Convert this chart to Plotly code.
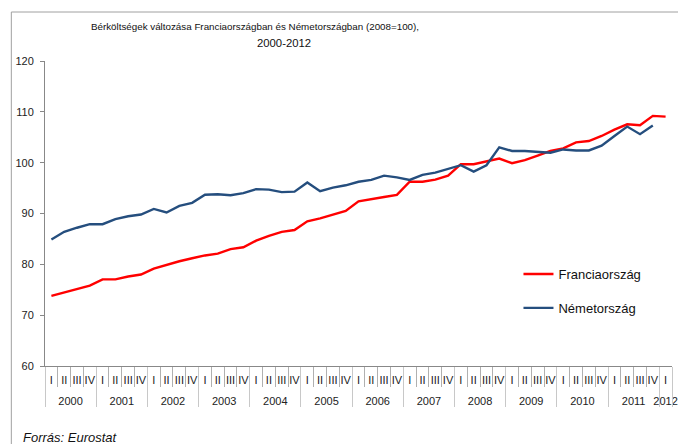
import plotly.graph_objects as go

years = [str(y) for y in range(2000, 2013)]
quarter_names = ["I", "II", "III", "IV"]

# 2000 Q1 .. 2012 Q1
year_labels = [y for y in years[:-1] for _ in quarter_names] + ["2012"]
quarter_labels = quarter_names * 12 + ["I"]

france = [73.8, 74.5, 75.1, 75.8, 77.05, 77.05, 77.6, 78.0,
          79.15, 79.9, 80.6, 81.2, 81.75, 82.1, 83.0, 83.35,
          84.65, 85.6, 86.4, 86.75, 88.45, 89.05, 89.8, 90.5,
          92.4, 92.9, 93.25, 93.65, 96.25, 96.25, 96.65, 97.45,
          99.7, 99.7, 100.2, 100.8, 99.9, 100.5, 101.4, 102.3,
          102.8, 104.0, 104.25, 105.25, 106.5, 107.55, 107.35, 109.2,
          109.05]

germany = [84.9, 86.4, 87.2, 87.9, 87.9, 88.9, 89.45, 89.8,
           90.9, 90.2, 91.5, 92.1, 93.7, 93.8, 93.6, 94.0,
           94.8, 94.7, 94.2, 94.3, 96.1, 94.4, 95.1, 95.55,
           96.25, 96.6, 97.45, 97.1, 96.6, 97.6, 98.05, 98.8,
           99.5, 98.25, 99.5, 103.0, 102.3, 102.3, 102.15, 101.95,
           102.6, 102.4, 102.4, 103.35, 105.25, 107.1, 105.6, 107.3]

y_ticks = [60, 70, 80, 90, 100, 110, 120]

title_line1 = "Bérköltségek változása Franciaországban és Németországban (2008=100),"
title_line2 = "2000-2012"
source_text = "Forrás: Eurostat"

# category keys (one per quarter) and derived axis helpers
n = len(year_labels)
keys = [f"{y} {q}" for y, q in zip(year_labels, quarter_labels)]
year_idx = {}
for i, y in enumerate(year_labels):
    year_idx.setdefault(y, []).append(i)
year_centers = [sum(v) / len(v) for v in year_idx.values()]
year_bounds = [v[0] - 0.5 for v in year_idx.values()] + [n - 0.5]
quarter_bounds = [i - 0.5 for i in range(n + 1)]

W, H = 678, 444
PL, PR, PT, PB = 45, 678, 61, 366          # plot area in pixels
L, T, R, B = PL, PT, W - PR, H - PB
pw, ph = PR - PL, PB - PT

def px(xpix):
    return (xpix - PL) / pw

def py(ypix):
    return (PB - ypix) / ph

def cy(ypix):
    return 1 - ypix / H

fig = go.Figure()
fig.add_trace(go.Scatter(
    x=keys, y=france, mode="lines",
    name="Franciaország", line=dict(color="#FF0000", width=2.4),
    legendgroup="fr"))
fig.add_trace(go.Scatter(
    x=keys[:len(germany)], y=germany,
    mode="lines", name="Németország", line=dict(color="#254E7E", width=2.4),
    legendgroup="de"))
# empty helper traces for the overlaid label / separator axes
fig.add_trace(go.Scatter(x=[], y=[], xaxis="x2", showlegend=False,
                         hoverinfo="skip"))
fig.add_trace(go.Scatter(x=[], y=[], xaxis="x3", showlegend=False,
                         hoverinfo="skip"))

font_main = "Liberation Sans, Arial, sans-serif"

fig.update_layout(
    width=W, height=H,
    margin=dict(l=L, r=R, t=T, b=B),
    paper_bgcolor="white", plot_bgcolor="white",
    font=dict(family=font_main, size=11, color="#222222"),
    showlegend=True,
    legend=dict(x=px(523), y=py(259), xanchor="left", yanchor="top",
                font=dict(size=13, color="#111111"),
                tracegroupgap=14, bgcolor="rgba(0,0,0,0)"),
    xaxis=dict(
        type="category", categoryorder="array", categoryarray=keys,
        range=[-0.5, n - 0.5],
        tickvals=keys, ticktext=quarter_labels, tickangle=0,
        showline=True, linecolor="#888888", linewidth=1,
        ticks="", ticklabelstandoff=4, showgrid=False, zeroline=False,
        tickfont=dict(size=11, color="#222222")),
    xaxis2=dict(
        overlaying="x", anchor="y", side="bottom", type="linear",
        range=[-0.5, n - 0.5],
        tickvals=year_centers, ticktext=list(year_idx.keys()), tickangle=0,
        ticks="outside", ticklen=25, tickcolor="rgba(0,0,0,0)",
        ticklabeloverflow="allow",
        minor=dict(tickvals=quarter_bounds, ticks="outside", ticklen=20,
                   tickcolor="#B0B0B0", tickwidth=1, showgrid=False),
        showgrid=False, zeroline=False, showline=False,
        tickfont=dict(size=11, color="#222222")),
    xaxis3=dict(
        overlaying="x", anchor="y", side="bottom", type="linear",
        range=[-0.5, n - 0.5],
        tickvals=year_bounds, ticks="outside", ticklen=40,
        tickcolor="#C8C8C8", tickwidth=1, showticklabels=False,
        showgrid=False, zeroline=False, showline=False),
    yaxis=dict(
        range=[60, 120], tickvals=y_ticks, showline=True,
        linecolor="#888888", linewidth=1, ticks="outside", ticklen=4,
        tickcolor="#888888", showgrid=False, zeroline=False,
        ticklabelstandoff=4,
        tickfont=dict(size=11, color="#222222")),
    title=dict(text=title_line1, x=px(257), xanchor="center", xref="paper",
               y=cy(27), yref="container", yanchor="middle",
               font=dict(size=9.8, color="#111111")),
    annotations=[
        dict(text=title_line2, xref="paper", yref="paper",
             x=px(286), y=py(43), xanchor="center", yanchor="middle",
             showarrow=False,
             font=dict(size=11.3, color="#111111")),
        dict(text="<i>" + source_text + "</i>", xref="paper", yref="paper",
             x=px(21), y=py(428), xanchor="left", yanchor="top",
             showarrow=False, font=dict(size=13, color="#111111")),
    ],
    shapes=[dict(type="rect", xref="paper", yref="paper",
                 x0=px(11), x1=px(W + 20), y0=py(H + 20), y1=py(12),
                 line=dict(color="#A0A0A0", width=1),
                 fillcolor="rgba(0,0,0,0)", layer="below")],
)

post = (
    "document.body.style.margin='0';"
    "document.documentElement.style.overflow='hidden';"
    "document.body.style.overflow='hidden';"
    "var gd=document.getElementById('{plot_id}');"
    "gd.style.overflow='hidden';"
    "gd.querySelectorAll('svg').forEach(s => { s.style.overflow='hidden'; });"
)

fig.write_html("out.html",
               config={"displayModeBar": False},
               post_script=post)
